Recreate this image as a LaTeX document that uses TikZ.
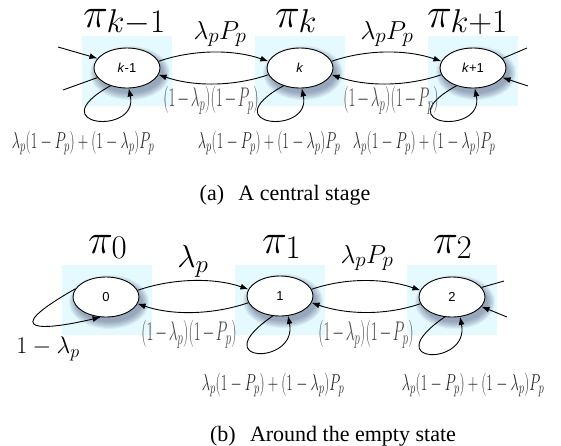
\RequirePackage{fix-cm}
\documentclass[tikz,border=0pt]{standalone}
\usepackage{fontspec}
\usepackage{graphicx}
\setmainfont{Liberation Serif}
\newfontfamily\nodefont{Liberation Sans}
\usetikzlibrary{arrows.meta,shapes.geometric}
\DeclareMathSizes{42}{42}{33}{26}
\DeclareMathSizes{26}{26}{21}{16}
\DeclareMathSizes{32}{32}{25}{19}
\DeclareMathSizes{27}{27}{20}{15}
\DeclareMathSizes{24}{24}{18}{14}
\DeclareMathSizes{23}{23}{17}{12}
\definecolor{bgblue}{RGB}{228,250,255}
\definecolor{shadowc}{RGB}{35,45,90}
\definecolor{lblgray}{RGB}{70,70,70}
\newcommand{\piLab}[1]{{$\pi$}\kern-1.5pt\raisebox{-5pt}{$\scriptstyle #1$}}
\newcommand{\midText}{\scalebox{0.56}[1]{$(1\mkern-2mu-\mkern-2mu\lambda_p)(1\mkern-2mu-\mkern-2mu P_p)$}}
\newcommand{\loopText}{\scalebox{0.625}[1]{$\lambda_p(1-P_p)+(1-\lambda_p)P_p$}}
\begin{document}
\begin{tikzpicture}[x=1pt,y=-1pt,
  bgsq/.style={fill=bgblue,draw=none,minimum width=90pt,minimum height=70pt,inner sep=0pt},
  state/.style={ellipse,draw,line width=0.9pt,fill=white,minimum width=66pt,minimum height=40pt,inner sep=0pt,font=\nodefont\fontsize{13}{15}\selectfont},
  arr/.style={-{Latex[length=8pt,width=6pt]},line width=0.9pt},
  ln/.style={line width=0.9pt},
  pilbl/.style={inner sep=0pt,anchor=base west,font=\fontsize{42}{48}\selectfont},
  toplbl/.style={inner sep=0pt,font=\fontsize{26}{30}\selectfont},
  bigtop/.style={inner sep=0pt,font=\fontsize{32}{36}\selectfont},
  midlbl/.style={inner sep=0pt,text=lblgray,font=\fontsize{27}{30}\selectfont},
  looplbl/.style={inner sep=0pt,text=black!85,font=\fontsize{23}{26}\selectfont},
  onelbl/.style={inner sep=0pt,font=\fontsize{24}{28}\selectfont},
  caplbl/.style={inner sep=0pt,font=\fontsize{22}{26}\selectfont}
]
\useasboundingbox (0,0) rectangle (561,445);
% light blue backgrounds
\node[bgsq] (bgA1) at (127,71) {};
\node[bgsq] (bgA2) at (300,71) {};
\node[bgsq] (bgA3) at (473,71) {};
\node[bgsq] (bgB1) at (107,300) {};
\node[bgsq] (bgB2) at (280,300) {};
\node[bgsq] (bgB3) at (452,300) {};
% soft shadows
\foreach \cx/\cy in {127/68,300/68,473/68,106/297,280/296,452/297}{
  \foreach \i in {0,...,7}{
    \pgfmathsetmacro{\rx}{40-\i}
    \pgfmathsetmacro{\ry}{27-\i}
    \fill[shadowc,opacity=0.06] (\cx+3,\cy+5) ellipse [x radius=\rx pt, y radius=\ry pt];
  }
}
% states
\node[state] (km1) at (127,68) {\textit{k}-1};
\node[state] (k) at (300,68) {\textit{k}};
\node[state] (kp1) at (473,68) {\textit{k}+1};
\node[state] (s0) at (106,297) {0};
\node[state] (s1) at (280,296) {1};
\node[state] (s2) at (452,297) {2};
% free ends
\coordinate (inA) at (58,47);
\coordinate (outA) at (63,90);
\coordinate (outB) at (527,48);
\coordinate (inB) at (528,86);
\coordinate (outC) at (504,281);
\coordinate (inC) at (507,317);
% (a) edges
\draw[arr] (km1.12) .. controls +(35,-12) and +(-35,-12) .. (k.168);
\draw[arr] (k.192) .. controls +(-35,12) and +(35,12) .. (km1.-12);
\draw[arr] (k.12) .. controls +(35,-12) and +(-35,-12) .. (kp1.168);
\draw[arr] (kp1.192) .. controls +(-35,12) and +(35,12) .. (k.-12);
\draw[arr] (inA) -- (km1.162);
\draw[ln] (km1.198) -- (outA);
\draw[ln] (kp1.18) -- (outB);
\draw[arr] (inB) -- (kp1.-18);
\draw[arr] (km1.-133) .. controls +(-72,40) and +(10,48) .. (km1.-85);
\draw[arr] (k.-133) .. controls +(-72,40) and +(10,48) .. (k.-85);
\draw[arr] (kp1.-133) .. controls +(-72,40) and +(10,48) .. (kp1.-85);
% (b) edges
\draw[arr] (s0.12) .. controls +(35,-12) and +(-35,-12) .. (s1.168);
\draw[arr] (s1.192) .. controls +(-35,12) and +(35,12) .. (s0.-12);
\draw[arr] (s1.12) .. controls +(35,-12) and +(-35,-12) .. (s2.168);
\draw[arr] (s2.192) .. controls +(-35,12) and +(35,12) .. (s1.-12);
\draw[ln] (s2.18) -- (outC);
\draw[arr] (inC) -- (s2.-18);
\draw[arr] (s0.165) .. controls +(-81,46) and +(-55,13) .. (s0.-105);
\draw[arr] (s1.-110) .. controls +(-70,48) and +(10,50) .. (s1.-68);
\draw[arr] (s2.-110) .. controls +(-70,48) and +(10,50) .. (s2.-68);
% (a) labels
\node[pilbl] (pA1) at (83,27) {\piLab{k-1}};
\node[pilbl] (pA2) at (275,27) {\piLab{k}};
\node[pilbl] (pA3) at (427,27) {\piLab{k+1}};
\node[toplbl] (tA1) at (220,34) {$\lambda_pP_p$};
\node[toplbl] (tA2) at (387,34) {$\lambda_pP_p$};
\node[midlbl] (mA1) at (211,100) {\midText};
\node[midlbl] (mA2) at (391,100) {\midText};
\node[looplbl] (lA1) at (83,143) {\loopText};
\node[looplbl] (lA2) at (269,143) {\loopText};
\node[looplbl] (lA3) at (424,143) {\loopText};
\node[caplbl] (capA) at (285,195) {(a)\hspace{0.4em} A central stage};
% (b) labels
\node[pilbl] (pB1) at (88,253) {\piLab{0}};
\node[pilbl] (pB2) at (262,253) {\piLab{1}};
\node[pilbl] (pB3) at (433,253) {\piLab{2}};
\node[bigtop] (tB1) at (193,261) {$\lambda_p$};
\node[toplbl] (tB2) at (367,258) {$\lambda_pP_p$};
\node[onelbl] (oB) at (48,349) {$1-\lambda_p$};
\node[midlbl] (mB1) at (189,334) {\midText};
\node[midlbl] (mB2) at (366,334) {\midText};
\node[looplbl] (lB1) at (273,385) {\loopText};
\node[looplbl] (lB2) at (473,385) {\loopText};
\node[caplbl] (capB) at (333,436) {(b)\hspace{0.4em} Around the empty state};
\end{tikzpicture}
\end{document}
